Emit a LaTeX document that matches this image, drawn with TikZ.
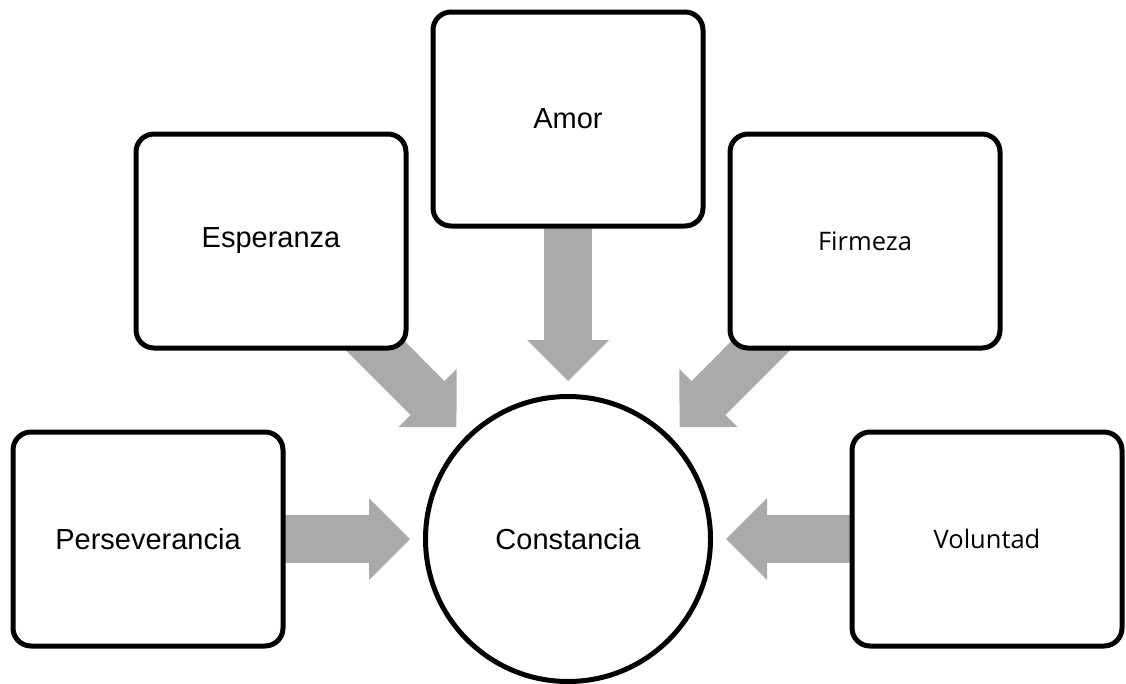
\documentclass[tikz,border=0pt]{standalone}
\usepackage{fontspec}
\setmainfont{Liberation Sans}
\newfontfamily\uifont{Open Sans}
\usetikzlibrary{arrows.meta}
\definecolor{flowgray}{RGB}{170,170,170}
\pgfdeclarelayer{back}
\pgfsetlayers{back,main}
\tikzset{
  box/.style={draw, line width=5pt, rounded corners=18pt, fill=white,
    minimum width=270pt, minimum height=214pt, font=\fontsize{29}{34}\selectfont},
  boxui/.style={box, font=\uifont\fontsize{25.5}{30}\selectfont},
  hub/.style={draw, circle, line width=5pt, fill=white, minimum size=285pt,
    font=\fontsize{29}{34}\selectfont},
  flow/.style={line width=48pt, draw=flowgray, shorten >=13pt,
    -{Triangle[length=41pt, width=82pt, line width=0pt]}}
}

\begin{document}
\begin{tikzpicture}[x=1pt, y=-1pt]
\useasboundingbox (0,0) rectangle (1126,683);
\node[hub] (constancia) at (568,539) {Constancia};
\node[box] (amor) at (568,119) {Amor};
\node[box] (esperanza) at (271,241) {Esperanza};
\node[boxui] (firmeza) at (865,241) {Firmeza};
\node[box] (perseverancia) at (148,539) {Perseverancia};
\node[boxui] (voluntad) at (987,539) {Voluntad};
% grey arrows under the boxes
\begin{pgfonlayer}{back}
\foreach \src in {amor, esperanza, firmeza, perseverancia, voluntad}
  \draw[flow] (\src.center) -- (constancia);
\end{pgfonlayer}
\end{tikzpicture}
\end{document}
